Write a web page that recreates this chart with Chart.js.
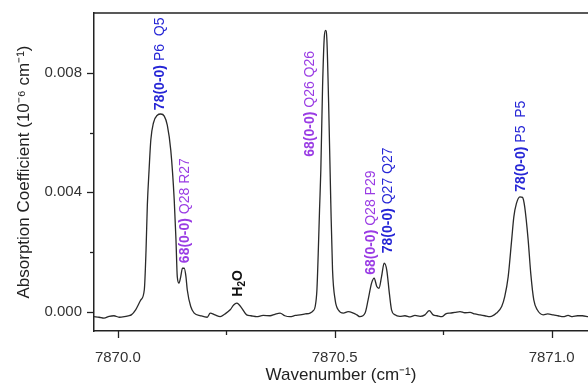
<!DOCTYPE html>
<html><head><meta charset="utf-8">
<script src="https://cdn.jsdelivr.net/npm/chart.js@4/dist/chart.umd.min.js"></script>
<style>html,body{margin:0;padding:0;background:#fff}#wrap{width:588px;height:387px}</style>
</head><body><div id="wrap"><canvas id="c" width="588" height="387"></canvas></div>
<script>
const wavenumber = [7869.945,7869.957,7869.968,7869.980,7869.991,7870.003,7870.015,7870.024,7870.031,7870.041,7870.053,7870.061,7870.065,7870.068,7870.072,7870.076,7870.082,7870.091,7870.099,7870.107,7870.114,7870.122,7870.130,7870.134,7870.137,7870.141,7870.145,7870.149,7870.153,7870.157,7870.160,7870.168,7870.176,7870.191,7870.206,7870.213,7870.224,7870.236,7870.247,7870.259,7870.267,7870.274,7870.279,7870.286,7870.297,7870.307,7870.320,7870.335,7870.351,7870.362,7870.374,7870.385,7870.397,7870.409,7870.420,7870.432,7870.443,7870.450,7870.455,7870.459,7870.462,7870.465,7870.468,7870.472,7870.476,7870.479,7870.482,7870.486,7870.491,7870.495,7870.501,7870.508,7870.520,7870.531,7870.543,7870.551,7870.558,7870.570,7870.577,7870.585,7870.591,7870.597,7870.602,7870.608,7870.614,7870.620,7870.626,7870.631,7870.639,7870.650,7870.662,7870.674,7870.685,7870.697,7870.708,7870.718,7870.727,7870.736,7870.747,7870.756,7870.766,7870.777,7870.789,7870.800,7870.812,7870.823,7870.835,7870.846,7870.858,7870.873,7870.885,7870.892,7870.900,7870.908,7870.913,7870.919,7870.927,7870.933,7870.938,7870.946,7870.952,7870.959,7870.967,7870.981,7870.991,7871.004,7871.015,7871.027,7871.038,7871.048,7871.060,7871.071,7871.084];
const absorption = [-0.00016,-0.00018,-0.00021,-0.00015,-0.00013,-0.00018,-0.00016,-0.00013,-0.00010,0.00007,0.00040,0.00074,0.00207,0.00358,0.00475,0.00575,0.00632,0.00658,0.00662,0.00655,0.00625,0.00541,0.00374,0.00241,0.00118,0.00096,0.00118,0.00146,0.00146,0.00118,0.00074,0.00018,-0.00004,-0.00013,-0.00018,-0.00004,-0.00010,-0.00016,-0.00007,0.00007,0.00023,0.00029,0.00025,0.00012,-0.00010,-0.00013,-0.00016,-0.00012,-0.00013,-0.00008,-0.00004,-0.00013,-0.00016,-0.00012,-0.00010,-0.00007,-0.00004,0.00003,0.00018,0.00074,0.00196,0.00341,0.00475,0.00753,0.00920,0.00942,0.00909,0.00697,0.00363,0.00140,0.00040,0.00007,-0.00004,0.00001,-0.00004,-0.00010,-0.00016,-0.00004,0.00040,0.00096,0.00113,0.00085,0.00079,0.00118,0.00163,0.00140,0.00062,0.00007,-0.00010,-0.00015,-0.00013,-0.00017,-0.00012,-0.00015,-0.00010,0.00004,-0.00010,-0.00013,-0.00016,-0.00007,-0.00004,-0.00002,0.00001,-0.00003,-0.00002,-0.00007,-0.00010,-0.00013,-0.00016,-0.00004,0.00018,0.00051,0.00118,0.00241,0.00318,0.00363,0.00385,0.00383,0.00352,0.00241,0.00129,0.00040,0.00007,-0.00010,-0.00007,-0.00010,-0.00013,-0.00016,-0.00012,-0.00016,-0.00013,-0.00013,-0.00016];

const xMajorTicks = [7870.0, 7870.5, 7871.0];
const xTickLabels = ['7870.0', '7870.5', '7871.0'];
const xMinorTicks = [7870.25, 7870.75];
const yMajorTicks = [0, 0.004, 0.008];
const yTickLabels = ['0.000', '0.004', '0.008'];
const yMinorTicks = [0.002, 0.006];

const BLUE = '#2626d6', PURPLE = '#9a3ce4', BLACK = '#111';
// annotation anchors: x = wavenumber of label, y = value at label start (text reads upward)
const labelX = [7870.098, 7870.156, 7870.2765, 7870.444, 7870.5836, 7870.6228, 7870.929];
const labelY = [0.00675, 0.00163, 0.00051, 0.00519, 0.00124, 0.00196, 0.00402];
const labelBold = ['78(0-0)', '68(0-0)', 'H', '68(0-0)', '68(0-0)', '78(0-0)', '78(0-0)'];
const labelRest = [' P6  Q5', ' Q28 R27', '', ' Q26 Q26', ' Q28 P29', ' Q27 Q27', ' P5  P5'];
const labelColor = [BLUE, PURPLE, BLACK, PURPLE, PURPLE, BLUE, BLUE];

const FONT = "'Liberation Sans', Arial, Helvetica, sans-serif";

const decor = {
  id: 'decor',
  afterDraw(chart) {
    const ctx = chart.ctx, xs = chart.scales.x, ys = chart.scales.y, a = chart.chartArea;
    ctx.save();
    ctx.strokeStyle = '#222'; ctx.lineWidth = 1.5;
    ctx.beginPath(); ctx.moveTo(a.left, a.top); ctx.lineTo(a.right, a.top); ctx.stroke();
    ctx.lineWidth = 1.3;
    const yt = (v, len) => { const p = Math.round(ys.getPixelForValue(v)) + 0.5; ctx.beginPath(); ctx.moveTo(a.left, p); ctx.lineTo(a.left - len, p); ctx.stroke(); };
    const xt = (v, len) => { const p = Math.round(xs.getPixelForValue(v)) + 0.5; ctx.beginPath(); ctx.moveTo(p, a.bottom); ctx.lineTo(p, a.bottom + len); ctx.stroke(); };
    yMajorTicks.forEach(v => yt(v, 7)); yMinorTicks.forEach(v => yt(v, 4));
    xMajorTicks.forEach(v => xt(v, 7)); xMinorTicks.forEach(v => xt(v, 4));
    // rotated peak labels
    ctx.textBaseline = 'middle'; ctx.textAlign = 'left';
    for (let i = 0; i < labelX.length; i++) {
      const px = xs.getPixelForValue(labelX[i]), py = ys.getPixelForValue(labelY[i]);
      ctx.save();
      ctx.translate(px, py); ctx.rotate(-Math.PI / 2);
      ctx.fillStyle = labelColor[i];
      ctx.font = 'bold 14px ' + FONT;
      ctx.fillText(labelBold[i], 0, 0);
      let w = ctx.measureText(labelBold[i]).width;
      if (labelBold[i] === 'H') {
        ctx.font = 'bold 10px ' + FONT;
        ctx.fillText('2', w, 4);
        w += ctx.measureText('2').width;
        ctx.font = 'bold 14px ' + FONT;
        ctx.fillText('O', w, 0);
      } else {
        ctx.font = '14px ' + FONT;
        ctx.fillText(labelRest[i], w, 0);
      }
      ctx.restore();
    }
    ctx.restore();
  }
};

new Chart(document.getElementById('c'), {
  type: 'line',
  data: {
    datasets: [{
      data: wavenumber.map((w, i) => ({ x: w, y: absorption[i] })),
      borderColor: '#2a2a2a', borderWidth: 1.3, pointRadius: 0,
      cubicInterpolationMode: 'monotone', fill: false
    }]
  },
  options: {
    responsive: false, animation: false, devicePixelRatio: 1,
    layout: { padding: { top: 13, left: 0, right: 0, bottom: 0 } },
    plugins: { legend: { display: false }, tooltip: { enabled: false } },
    scales: {
      x: {
        type: 'linear', min: 7869.945, max: 7871.084,
        grid: { display: false, drawTicks: false },
        border: { display: true, color: '#222', width: 1.5 },
        afterBuildTicks: s => { s.ticks = xMajorTicks.map(v => ({ value: v })); },
        ticks: { callback: (v) => xTickLabels[xMajorTicks.indexOf(v)] ?? '', padding: 18, color: '#333', maxRotation: 0, font: { family: FONT, size: 15 } },
        title: { display: true, text: 'Wavenumber (cm\u207B\u00B9)', color: '#222', font: { family: FONT, size: 17 }, padding: { top: 0, bottom: 1 } },
        afterFit: s => { s.height = 56; s.paddingLeft = 0; s.paddingRight = 0; }
      },
      y: {
        type: 'linear', min: -0.00064, max: 0.0100,
        grid: { display: false, drawTicks: false },
        border: { display: true, color: '#222', width: 1.5 },
        afterBuildTicks: s => { s.ticks = yMajorTicks.map(v => ({ value: v })); },
        ticks: { callback: (v) => yTickLabels[yMajorTicks.indexOf(v)] ?? '', padding: 12, color: '#333', font: { family: FONT, size: 15 } },
        title: { display: true, text: 'Absorption Coefficient (10\u207B\u2076 cm\u207B\u00B9)', color: '#222', font: { family: FONT, size: 17 }, padding: { top: 14, bottom: 0 } },
        afterFit: s => { s.width = 94; s.paddingTop = 0; s.paddingBottom = 0; }
      }
    }
  },
  plugins: [decor]
});
</script>
</body></html>
